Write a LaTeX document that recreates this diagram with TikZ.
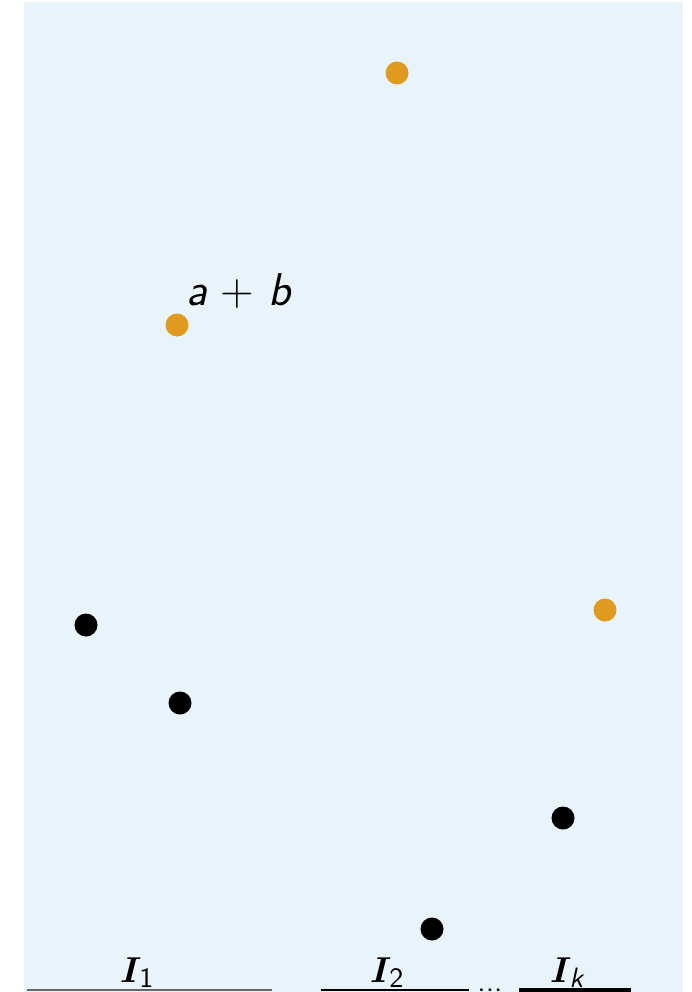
\documentclass[tikz,border=0pt]{standalone}
\usepackage{graphicx}
\definecolor{bgblue}{HTML}{E8F3FA}
\definecolor{dotorange}{HTML}{E09A20}
\tikzset{
  odot/.style={circle, fill=dotorange, inner sep=0pt, minimum size=23pt},
  bdot/.style={circle, fill=black, inner sep=0pt, minimum size=23pt},
  seg/.style={line width=2.5pt},
  lbl/.style={anchor=base west, inner sep=0pt}
}
\newcommand{\biglbl}[1]{\scalebox{3.6}{\boldmath$I$}\kern-2pt\raisebox{-5pt}{\scalebox{2.8}{\textsf{#1}}}}
\begin{document}
\begin{tikzpicture}[x=1pt,y=-1pt]
\useasboundingbox (0,0) rectangle (692,992);
\clip (0,0) rectangle (692,992);
\fill[bgblue] (24,2) rectangle (683,995);
% dots
\node[odot] (o1) at (397,73) {};
\node[odot] (o2) at (177,325) {};
\node[odot] (o3) at (605,610) {};
\node[bdot] (b1) at (86,625) {};
\node[bdot] (b2) at (180,703) {};
\node[bdot] (b3) at (563,818) {};
\node[bdot] (b4) at (432,929) {};
% label a+b
\node[anchor=base west, inner sep=0pt, font=\fontsize{46}{54}\selectfont] (ab) at (186,305)
  {\sffamily\itshape a\hspace{0.3em}\upshape+\hspace{0.3em}\itshape b};
% intervals
\coordinate (s1a) at (27,990);
\coordinate (s1b) at (272,990);
\coordinate (s2a) at (321,990);
\coordinate (s2b) at (469,990);
\coordinate (s3a) at (519,990);
\coordinate (s3b) at (631,990);
\draw[seg, gray!80!black] (s1a) -- (s1b);
\draw[seg] (s2a) -- (s2b);
\draw[seg, line width=3.5pt] (s3a) -- (s3b);
\node[anchor=base, inner sep=0pt] (dots) at (490,991) {\scalebox{3}{\textsf{...}}};
\node[lbl] (l1) at (120,982) {\biglbl{1}};
\node[lbl] (l2) at (370,982) {\biglbl{2}};
\node[lbl] (l3) at (550,982) {\biglbl{\itshape k}};
\end{tikzpicture}
\end{document}
